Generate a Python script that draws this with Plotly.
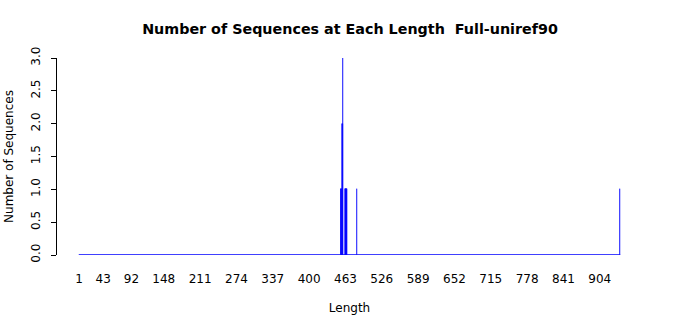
import plotly.graph_objects as go

# Sequence lengths that occur and their counts
lengths = [455, 456, 458, 459, 463, 464, 465, 466, 483, 939]
counts = [1, 1, 2, 3, 1, 1, 1, 1, 1, 1]
min_len = 1
tick_labels = [1, 43, 92, 148, 211, 274, 337, 400, 463, 526, 589, 652, 715, 778, 841, 904]
y_ticks = [0.0, 0.5, 1.0, 1.5, 2.0, 2.5, 3.0]

BLUE = "#0000FF"
FONT = "DejaVu Sans"

fig = go.Figure()
# zero-height bars drawn as baseline
fig.add_trace(go.Scatter(x=[min_len - 0.5, max(lengths) + 0.5], y=[0, 0], mode="lines",
                         line=dict(color=BLUE, width=1.3), hoverinfo="skip", showlegend=False))
fig.add_trace(go.Bar(x=lengths, y=counts, width=1.0,
                     marker=dict(color=BLUE, line=dict(color=BLUE, width=0.6)),
                     showlegend=False))

fig.update_layout(
    width=700, height=315,
    margin=dict(l=57, r=58, t=58, b=60),
    paper_bgcolor="white", plot_bgcolor="white",
    font=dict(family=FONT, size=12, color="black"),
    title=dict(text="<b>Number of Sequences at Each Length  Full-uniref90</b>",
               x=0.5, xanchor="center", y=1 - 29 / 315, yanchor="middle",
               font=dict(size=14.3, family=FONT, color="black")),
    bargap=0,
)
fig.update_xaxes(range=[-37.2, 977.2], tickmode="array", tickvals=tick_labels,
                 ticktext=[str(t) for t in tick_labels], showgrid=False, zeroline=False,
                 showline=False, ticks="", ticklabelstandoff=15, automargin=False,
                 title=dict(text="Length", font=dict(size=12), standoff=18))
fig.update_yaxes(range=[0, 3], tickmode="array", tickvals=y_ticks,
                 ticktext=[f"{v:.1f}" for v in y_ticks], tickangle=-90,
                 showgrid=False, zeroline=False, showline=True, linecolor="black", linewidth=1,
                 ticks="outside", ticklen=5, tickcolor="black", ticklabelstandoff=6,
                 automargin=False,
                 title=dict(text="Number of Sequences", font=dict(size=12), standoff=13))

fig.write_html("out.html")
